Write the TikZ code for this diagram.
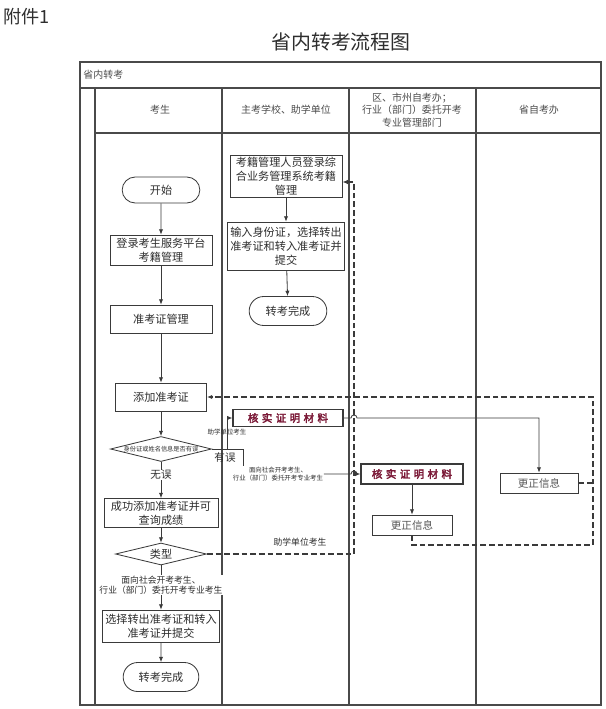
\documentclass[tikz,border=0pt]{standalone}
\usepackage{fontspec}
\setmainfont{Noto Sans CJK SC}[AutoFakeBold=3]
\usepackage{tikz}
\usetikzlibrary{positioning, arrows.meta, shapes.geometric, shapes.misc}
\definecolor{laneGray}{HTML}{4A4A4A}
\definecolor{boxGray}{HTML}{3A3A3A}
\definecolor{inkDark}{HTML}{2E2E2E}
\definecolor{verifyRed}{HTML}{7A1836}
\tikzset{
  lane/.style={draw=laneGray, line width=1.1pt},
  headtext/.style={font=\fontsize{8.5}{10.5}\selectfont, text=inkDark!85,
    align=center, inner sep=1pt},
  procbox/.style={rectangle, draw=boxGray, line width=0.7pt, align=center,
    inner sep=1pt, font=\fontsize{9.5}{12}\selectfont, text=inkDark},
  termbox/.style={rounded rectangle, draw=boxGray, line width=0.7pt,
    inner sep=1pt, font=\fontsize{9.5}{12}\selectfont, text=inkDark},
  decision/.style={diamond, draw=boxGray, line width=0.7pt, inner sep=0pt,
    aspect=4, align=center, text=inkDark},
  verifybox/.style={procbox, line width=1pt, text=verifyRed,
    font=\fontsize{9}{10}\selectfont\bfseries\addfontfeature{LetterSpace=32}},
  steplabel/.style={font=\fontsize{5.5}{6.8}\selectfont, align=center,
    text=inkDark, inner sep=0.5pt},
  link/.style={draw=boxGray, line width=0.7pt},
  flow/.style={link, -{Latex[length=1.6mm, width=1.3mm]}},
  backline/.style={draw=boxGray, line width=1pt,
    dash pattern=on 0.17cm off 0.09cm},
  backflow/.style={backline, -{Latex[length=1.6mm, width=1.3mm]}},
}

\begin{document}
\begin{tikzpicture}[x=0.03cm, y=-0.03cm]
    \useasboundingbox[fill=white] (0,0) rectangle (605,709);
    % ---------------- headings ----------------
    \node[anchor=west, inner sep=0pt, text=inkDark,
          font=\fontsize{15.5}{18}\selectfont] (annex) at (3,17) {附件1};
    \node[font=\fontsize{17}{20}\selectfont, text=inkDark] (title)
      at (341,42) {省内转考流程图};
    % ---------------- swimlanes ----------------
    \draw[lane] (80,62) rectangle (601,705);
    \draw[lane] (80,88) -- (601,88);
    \draw[lane] (95,133) -- (601,133);
    \foreach \x in {95,222,349,476}
      \draw[lane] (\x,88) -- (\x,705);
    \node[headtext, anchor=west] (pool) at (82,75) {省内转考};
    \node[headtext] (hStudent) at (160,110) {考生};
    \node[headtext] (hSchool) at (286,110) {主考学校、助学单位};
    \node[headtext] (hCity) at (412,110)
      {区、市州自考办；\\行业（部门）委托开考\\专业管理部门};
    \node[headtext] (hProv) at (539,110) {省自考办};
    % ---------------- candidate lane ----------------
    \node[termbox, minimum width=2.4cm, minimum height=0.78cm]
      (start) at (161,190) {开始};
    \node[procbox, minimum width=3.06cm, minimum height=0.9cm]
      (login) at (161,250) {登录考生服务平台\\考籍管理};
    \node[procbox, minimum width=3.06cm, minimum height=0.84cm]
      (admit) at (161,319) {准考证管理};
    \node[procbox, minimum width=2.73cm, minimum height=0.84cm]
      (addcard) at (161,397) {添加准考证};
    \node[decision, minimum width=3.03cm, minimum height=0.75cm,
          font=\fontsize{5.3}{6}\selectfont]
      (idcheck) at (161,449) {身份证或姓名信息是否有误};
    \node[procbox, minimum width=3.42cm, minimum height=0.87cm]
      (added) at (161,513) {成功添加准考证并可\\查询成绩};
    \node[decision, minimum width=2.73cm, minimum height=0.66cm,
          font=\fontsize{9.5}{12}\selectfont]
      (kind) at (161,554) {类型};
    \node[procbox, minimum width=3.51cm, minimum height=0.96cm]
      (choose) at (161,626) {选择转出准考证和转入\\准考证并提交};
    \node[termbox, minimum width=2.34cm, minimum height=0.87cm]
      (doneA) at (161,677) {转考完成};
    % ---------------- school lane ----------------
    \node[procbox, minimum width=3.36cm, minimum height=1.26cm]
      (manager) at (286,176) {考籍管理人员登录综\\合业务管理系统考籍\\管理};
    \node[procbox, minimum width=3.51cm, minimum height=1.44cm]
      (entry) at (286,246) {输入身份证，选择转出\\准考证和转入准考证并\\提交};
    \node[termbox, minimum width=2.4cm, minimum height=0.87cm]
      (doneB) at (288,311) {转考完成};
    \node[verifybox, minimum width=3.3cm, minimum height=0.51cm]
      (verifyA) at (288,418) {核实证明材料};
    % ---------------- city / provincial lanes ----------------
    \node[verifybox, minimum width=3.06cm, minimum height=0.6cm]
      (verifyB) at (412,474) {核实证明材料};
    \node[procbox, minimum width=2.4cm, minimum height=0.6cm,
          font=\fontsize{9}{11}\selectfont, text=inkDark!80]
      (fixB) at (412,525) {更正信息};
    \node[procbox, minimum width=2.34cm, minimum height=0.6cm,
          font=\fontsize{9}{11}\selectfont, text=inkDark!80]
      (fixA) at (539,483) {更正信息};
    % branch labels
    \node[steplabel] (tagA) at (227,432) {助学单位考生};
    \node[steplabel] (tagB) at (278,474)
      {面向社会开考考生、\\行业（部门）委托开考专业考生};
    \node[steplabel, font=\fontsize{7.5}{9}\selectfont] (tagC)
      at (300,542) {助学单位考生};
    \node[steplabel, font=\fontsize{9}{10}\selectfont] (errLabel)
      at (225,458) {有误};
    % junctions
    \coordinate (jA) at (227,449);
    \coordinate (jB) at (243,449);
    \coordinate (jC) at (354,182);
    \coordinate (jD) at (593,545);
    \coordinate (hopA) at (351,418);
    \coordinate (hopB) at (351,474);
    % ---------------- connectors ----------------
    \draw[flow] (start) -- (login);
    \draw[flow] (login) -- (admit);
    \draw[flow] (admit) -- (addcard);
    \draw[flow] (addcard) -- (idcheck);
    \draw[flow] (idcheck) -- (added);
    \draw[flow] (added) -- (kind);
    \draw[flow] (kind) -- (choose);
    \draw[flow] (choose) -- (doneA);
    \draw[flow] (manager) -- (entry);
    \draw[flow] (entry) -- (doneB);
    \draw[link] (idcheck.east) -- (jB) -- (jB |- tagB.north);
    \draw[flow] (jA) |- (verifyA.west);
    \draw[flow] (verifyA.east) -- (hopA)
      arc[start angle=180, end angle=0, radius=0.09cm] -| (fixA.north);
    \draw[flow] (tagB.east) -- (hopB)
      arc[start angle=180, end angle=0, radius=0.09cm] -- (verifyB.west);
    \draw[flow] (verifyB) -- (fixB);
    % return paths
    \draw[backflow] (kind.east) -| (jC) -- (jC -| manager.east);
    \draw[backflow] (fixB.south) |- (jD) |- (addcard.east);
    \draw[backline] (fixA.east) -- (fixA.east -| jD);
    % labels sitting on the flow
    \node[steplabel, fill=white, font=\fontsize{9}{10}\selectfont]
      (okLabel) at (161,475) {无误};
    \node[steplabel, fill=white, font=\fontsize{7.5}{9}\selectfont]
      (tagD) at (161,585) {面向社会开考考生、\\行业（部门）委托开考专业考生};
  \end{tikzpicture}
\end{document}
